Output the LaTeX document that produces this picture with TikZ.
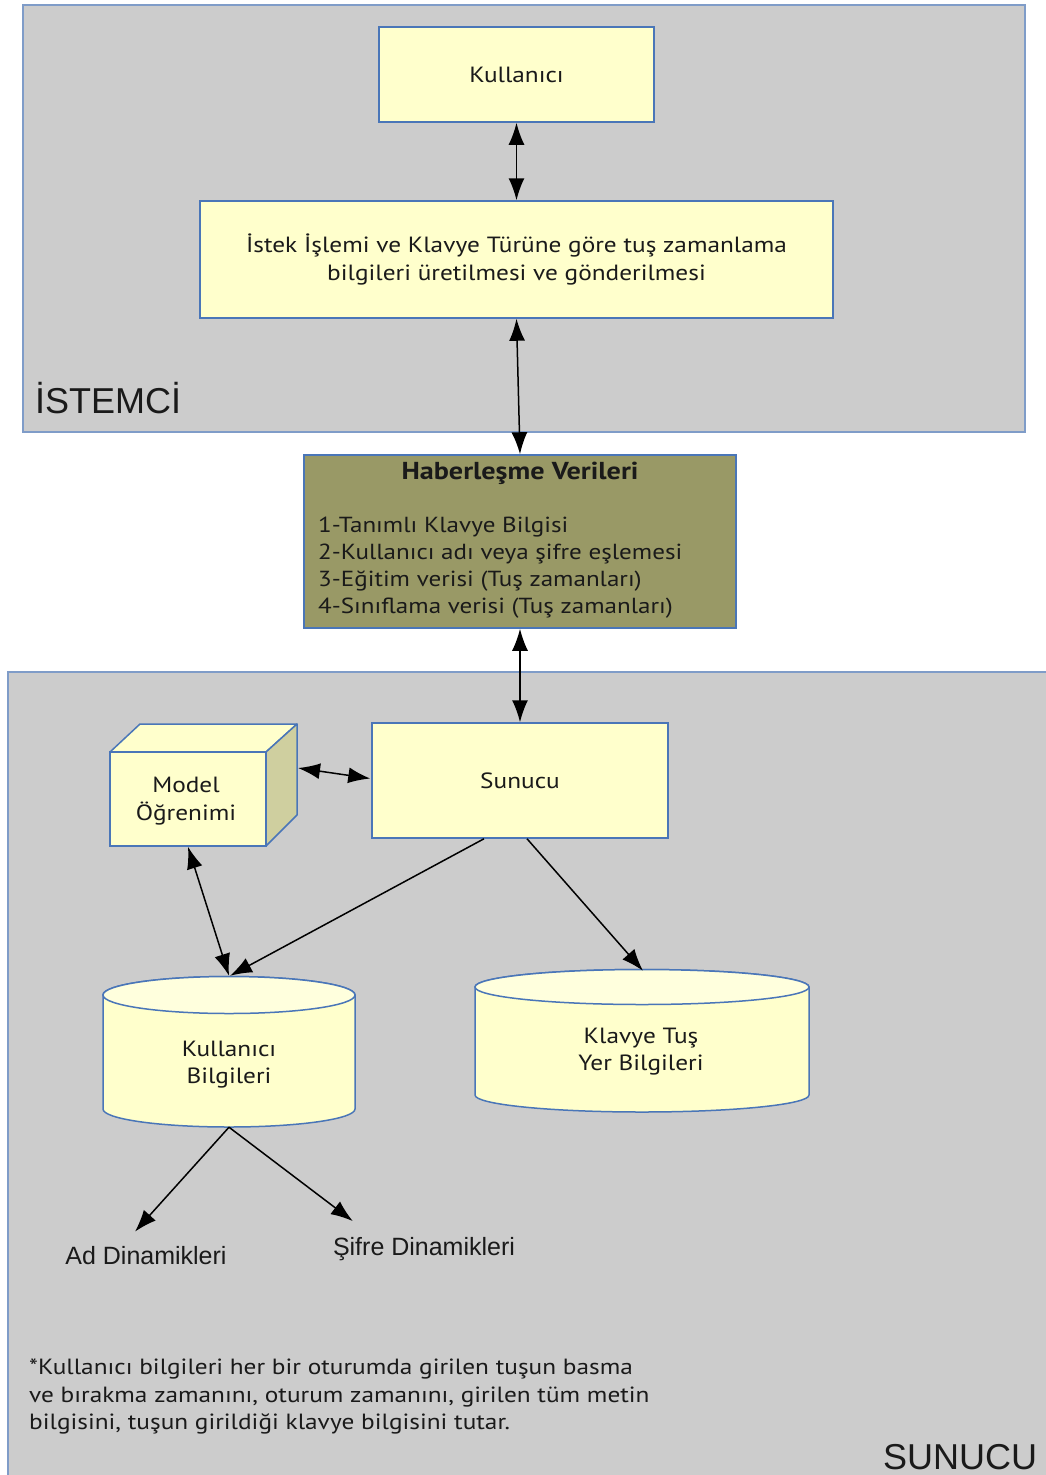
\documentclass[tikz,border=0pt]{standalone}
\usepackage{fontspec}
\setmainfont[FakeStretch=1.15]{PT Sans}
\newfontfamily\labelfont{Liberation Sans}
\usetikzlibrary{arrows.meta,calc}
\definecolor{zonegray}{HTML}{CCCCCC}
\definecolor{boxfill}{HTML}{FFFFCC}
\definecolor{boxtop}{HTML}{FFFFDD}
\definecolor{boxline}{HTML}{4A76B8}
\definecolor{zoneline}{HTML}{7F9CC8}
\definecolor{olivefill}{HTML}{999966}
\definecolor{cubeside}{HTML}{CFCF9F}
\definecolor{ink}{HTML}{1A1A1A}
\begin{document}
\begin{tikzpicture}[x=1pt,y=-1pt,
  zone/.style={rectangle,fill=zonegray,draw=zoneline,line width=1.5pt,inner sep=0pt},
  box/.style={rectangle,fill=boxfill,draw=boxline,line width=1.5pt,inner sep=0pt,
    align=center,text=ink,font=\fontsize{22}{28}\selectfont},
  tip/.tip={Latex[length=22pt,width=16pt]},
  link/.style={line width=1.5pt,draw=black,-tip},
  twoway/.style={line width=1.5pt,draw=black,tip-tip},
  zonelabel/.style={font=\labelfont\fontsize{36}{40}\selectfont,text=ink,inner sep=0pt},
  leaflabel/.style={font=\labelfont\fontsize{25}{28}\selectfont,text=ink,inner sep=0pt},
  cylbody/.style={fill=boxfill,draw=boxline,line width=1.5pt},
  cyltop/.style={fill=boxtop,draw=boxline,line width=1.5pt}]
\useasboundingbox (0,0) rectangle (1046,1475);

% client and server areas
\node[zone,minimum width=1002pt,minimum height=427pt] (istemci) at (524,218.5) {};
\node[zone,minimum width=1040pt,minimum height=810pt] (sunucuzone) at (528,1077) {};
\node[zonelabel,anchor=base west] (istemcilabel) at (35,413) {İSTEMCİ};
\node[zonelabel,anchor=base west] (sunuculabel) at (883,1469) {SUNUCU};

% client side
\node[box,minimum width=275pt,minimum height=95pt] (kul) at (516.5,74.5) {Kullanıcı};
\node[box,minimum width=633pt,minimum height=117pt] (istek) at (516.5,259.5)
  {İstek İşlemi ve Klavye Türüne göre tuş zamanlama\\bilgileri üretilmesi ve gönderilmesi};

% exchanged data
\node[box,fill=olivefill,minimum width=432pt,minimum height=173pt] (haber) at (520,541.5) {};
\node[font=\bfseries\fontsize{24.5}{27}\selectfont,text=ink,inner sep=0pt] (habertitle) at (520,473) {Haberleşme Verileri};
\node[font=\fontsize{21.8}{27}\selectfont,text=ink,inner sep=0pt,align=left,anchor=west] (haberitems) at (318,568)
  {1-Tanımlı Klavye Bilgisi\\2-Kullanıcı adı veya şifre eşlemesi\\3-Eğitim verisi (Tuş zamanları)\\4-Sınıflama verisi (Tuş zamanları)};

% server side
\node[box,minimum width=296pt,minimum height=115pt] (sunucu) at (520,780.5) {Sunucu};

% model learning cube
\path[fill=boxfill,draw=boxline,line width=1.5pt,line join=round] (110,752) -- (140,724) -- (297,724) -- (266,752) -- cycle;
\path[fill=cubeside,draw=boxline,line width=1.5pt,line join=round] (266,752) -- (297,724) -- (297,815) -- (266,846) -- cycle;
\node[box,minimum width=156pt,minimum height=94pt] (model) at (188,799) {};
\node[inner sep=0pt,align=center,text=ink,font=\fontsize{22}{28}\selectfont] (modeltext) at (186,801) {Model\\Öğrenimi};
\coordinate (modelside) at (298,768);

% user data cylinder
\path[cylbody] (103,995) -- (103,1109) arc[start angle=180,end angle=0,x radius=126,y radius=18]
  -- (355,995) arc[start angle=0,end angle=-180,x radius=126,y radius=18.5] -- cycle;
\path[cyltop] (229,995) ellipse[x radius=126,y radius=18.5];
\node[inner sep=0pt,minimum width=252pt,minimum height=151pt] (kb) at (229,1051.5) {};
\node[inner sep=0pt,align=center,text=ink,font=\fontsize{22}{27}\selectfont] (kbtext) at (229,1065) {Kullanıcı\\Bilgileri};

% key position cylinder
\path[cylbody] (475,987) -- (475,1095) arc[start angle=180,end angle=0,x radius=167,y radius=17]
  -- (809,987) arc[start angle=0,end angle=-180,x radius=167,y radius=17.5] -- cycle;
\path[cyltop] (642,987) ellipse[x radius=167,y radius=17.5];
\node[inner sep=0pt,minimum width=334pt,minimum height=143pt] (kt) at (642,1040.5) {};
\node[inner sep=0pt,align=center,text=ink,font=\fontsize{22}{27}\selectfont] (kttext) at (641,1052) {Klavye Tuş\\Yer Bilgileri};

% dynamics
\node[leaflabel] (ad) at (146,1256) {Ad Dinamikleri};
\node[leaflabel] (sifre) at (424,1249) {Şifre Dinamikleri};

% note
\node[anchor=north west,align=left,inner sep=0pt,text=ink,font=\fontsize{22}{27.5}\selectfont] (note) at (29,1359)
  {*Kullanıcı bilgileri her bir oturumda girilen tuşun basma\\ve bırakma zamanını, oturum zamanını, girilen tüm metin\\bilgisini, tuşun girildiği klavye bilgisini tutar.};

% connectors
\draw[twoway] (kul.south) -- (istek.north);
\draw[twoway] (istek.south) -- (haber.north);
\draw[twoway] (haber.south) -- (sunucu.north);
\draw[twoway] (modelside) -- ($(sunucu.west)+(-1,-2)$);
\draw[twoway] (model.south) -- (kb.north);
\draw[link] ($(sunucu.south)+(-36,0)$) -- ($(kb.north)+(1,0)$);
\draw[link] ($(sunucu.south)+(7,0)$) -- ($(kt.north)+(1,2)$);
\draw[link] (kb.south) -- ($(ad.north)+(-11,-15)$);
\draw[link] (kb.south) -- ($(sifre.north west)+(20,-16)$);
\end{tikzpicture}
\end{document}
